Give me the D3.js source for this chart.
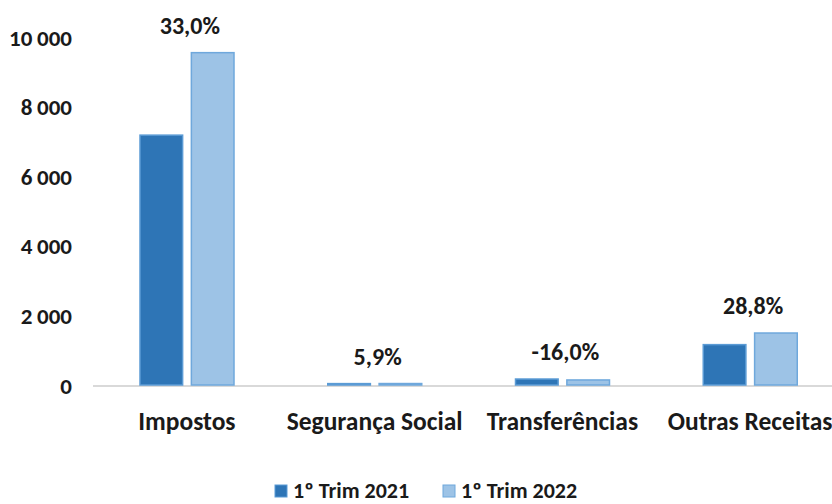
<!DOCTYPE html>
<html>
<head>
<meta charset="utf-8">
<script src="https://cdnjs.cloudflare.com/ajax/libs/d3/7.8.5/d3.min.js"></script>
<style>
  body { margin: 0; background: #fff; }
  svg text { font-family: Carlito, "Liberation Sans", Arial, sans-serif; font-weight: bold; fill: #1a1a1a; }
</style>
</head>
<body>
<div id="chart"></div>
<script>
const categories = ["Impostos", "Segurança Social", "Transferências", "Outras Receitas"];
const seriesNames = ["1º Trim 2021", "1º Trim 2022"];
const trim2021 = [7180, 40, 172, 1160];
const trim2022 = [9550, 42, 145, 1494];
const growthLabels = ["33,0%", "5,9%", "-16,0%", "28,8%"];
const yTicks = [0, 2000, 4000, 6000, 8000, 10000];

const W = 832, H = 504;
const fill = ["#2E75B6", "#9DC3E6"];
const edge = ["#5B9BD5", "#6FA8DC"];

const svg = d3.select("#chart").append("svg")
  .attr("width", W).attr("height", H);

const y = d3.scaleLinear().domain([0, 10000]).range([385, 37]);
const x0 = d3.scaleBand().domain(categories).range([93, 844]);
const x1 = d3.scaleBand().domain(seriesNames).range([47, 141]).paddingInner(0.17);

// y axis labels (no line, no gridlines)
const yAxis = d3.axisLeft(y).tickValues(yTicks).tickSize(0).tickPadding(0)
  .tickFormat(d => d3.format(",")(d).replace(/,/g, "\u2009"));
const gy = svg.append("g").attr("transform", "translate(72,0)").call(yAxis);
gy.select(".domain").remove();
gy.selectAll("text").style("font-size", "23px").attr("dy", "0.35em");

// baseline
svg.append("line")
  .attr("x1", 93).attr("x2", W)
  .attr("y1", y(0) + 1).attr("y2", y(0) + 1)
  .attr("stroke", "#d9d9d9").attr("stroke-width", 2);

const rows = categories.map((c, i) => ({ cat: c, vals: [trim2021[i], trim2022[i]], label: growthLabels[i] }));

const groups = svg.selectAll(".cat").data(rows).enter().append("g")
  .attr("class", "cat")
  .attr("transform", d => `translate(${x0(d.cat)},0)`);

groups.selectAll("rect")
  .data(d => d.vals.map((v, j) => ({ s: seriesNames[j], v: v, j: j })))
  .enter().append("rect")
  .attr("x", d => x1(d.s))
  .attr("width", x1.bandwidth())
  .attr("y", d => y(d.v))
  .attr("height", d => y(0) - y(d.v))
  .attr("fill", d => fill[d.j])
  .attr("stroke", d => edge[d.j])
  .attr("stroke-width", 1.5);

groups.append("text")
  .attr("x", x0.bandwidth() / 2 + 3)
  .attr("y", d => y(d3.max(d.vals)) - 19)
  .attr("text-anchor", "middle")
  .style("font-size", "24px")
  .text(d => d.label);

// category axis labels
const xAxis = d3.axisBottom(x0).tickSize(0).tickPadding(0);
const gx = svg.append("g").attr("transform", "translate(0,421)").call(xAxis);
gx.select(".domain").remove();
gx.selectAll("text").style("font-size", "25.5px").attr("dy", "0.35em");

// legend
const legend = svg.append("g").attr("transform", "translate(275,490)");
const items = legend.selectAll("g").data(seriesNames).enter().append("g")
  .attr("transform", (d, i) => `translate(${i * 168},0)`);
items.append("rect")
  .attr("x", 0).attr("y", -5).attr("width", 12).attr("height", 12)
  .attr("fill", (d, i) => fill[i]).attr("stroke", (d, i) => edge[i]).attr("stroke-width", 1);
items.append("text")
  .attr("x", 18).attr("y", 0).attr("dy", "0.35em")
  .style("font-size", "22px")
  .text(d => d);
</script>
</body>
</html>
